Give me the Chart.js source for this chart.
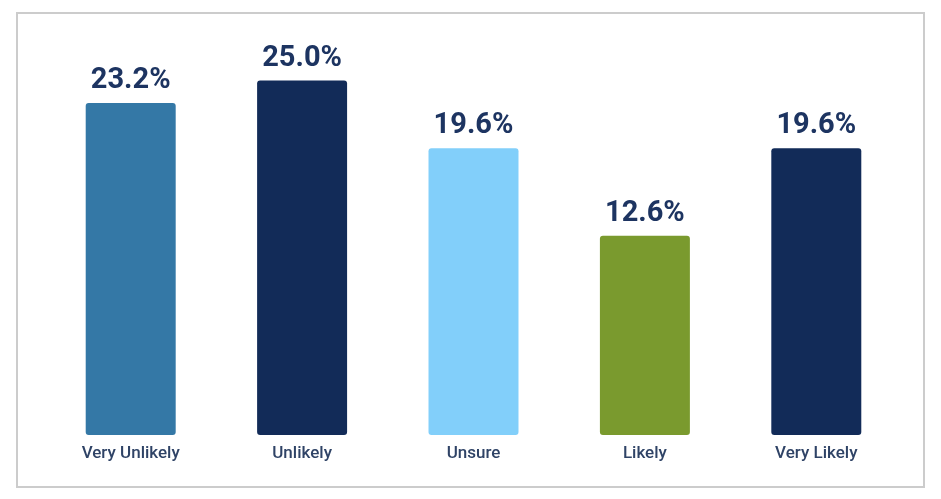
<!DOCTYPE html>
<html>
<head>
<meta charset="utf-8">
<script src="https://cdn.jsdelivr.net/npm/chart.js@4"></script>
<style>
  html, body { margin: 0; padding: 0; background: #fff; }
  #wrap { position: relative; width: 941px; height: 499px; }
  #frame {
    position: absolute; left: 16px; top: 12px; width: 905px; height: 472px;
    border: 2px solid #cccccc; pointer-events: none;
  }
  canvas { position: absolute; left: 0; top: 0; }
</style>
</head>
<body>
<div id="wrap">
  <canvas id="chart" width="941" height="499"></canvas>
  <div id="frame"></div>
</div>
<script>
// Likelihood responses, share of respondents (%)
const categories = ["Very Unlikely", "Unlikely", "Unsure", "Likely", "Very Likely"];
const shares     = [23.2, 25.0, 19.6, 12.6, 19.6];
const barColors  = ["#3478a6", "#122b58", "#82cffa", "#7a9a2e", "#122b58"];

// The source chart's bars don't start from zero; this baseline reproduces its proportions
const AXIS_BASE = -3.3;
const AXIS_TOP  = 25.2;

// ── Value labels above bars ──────────────────────────────────────────────
const valueLabels = {
  id: "valueLabels",
  afterDatasetsDraw(chart) {
    const { ctx } = chart;
    const meta = chart.getDatasetMeta(0);
    ctx.save();
    ctx.font = "700 29px Roboto, 'Noto Sans', sans-serif";
    ctx.fillStyle = "#1d3461";
    ctx.textAlign = "center";
    ctx.textBaseline = "alphabetic";
    meta.data.forEach((bar, i) => {
      ctx.fillText(shares[i].toFixed(1) + "%", bar.x, bar.y - 15);
    });
    ctx.restore();
  }
};

new Chart(document.getElementById("chart"), {
  type: "bar",
  data: {
    labels: categories,
    datasets: [{
      data: shares,
      base: AXIS_BASE,
      backgroundColor: barColors,
      borderWidth: 0,
      borderRadius: 3,
      borderSkipped: false,
      barPercentage: 0.75,
      categoryPercentage: 0.7
    }]
  },
  options: {
    responsive: false,
    animation: false,
    layout: { padding: { left: 45, right: 39, top: 78, bottom: 0 } },
    plugins: { legend: { display: false }, tooltip: { enabled: false } },
    scales: {
      x: {
        grid: { display: false, drawTicks: false },
        border: { display: false },
        ticks: {
          padding: 9,
          color: "#2f4366",
          font: { family: "Roboto, 'Noto Sans', sans-serif", size: 17, weight: "500" }
        },
        afterFit(scale) { scale.height = 64; }
      },
      y: {
        display: false,
        min: AXIS_BASE,
        max: AXIS_TOP
      }
    }
  },
  plugins: [valueLabels]
});
</script>
</body>
</html>
